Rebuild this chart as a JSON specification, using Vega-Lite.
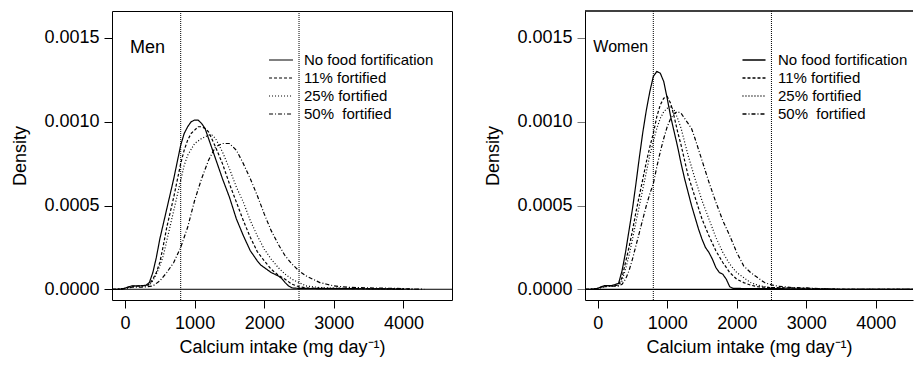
{
  "$schema": "https://vega.github.io/schema/vega-lite/v6.json",
  "autosize": {"type": "pad"},
  "padding": {"left": 11, "top": 10, "right": 0, "bottom": 0},
  "background": "white",
  "bounds": "flush",
  "spacing": 133,
  "config": {
    "font": "Liberation Sans",
    "view": {"stroke": "black", "strokeWidth": 1},
    "axis": {"grid": false, "domain": false, "tickColor": "black", "tickSize": 8, "tickWidth": 1,
      "labelFontSize": 18, "labelColor": "black", "labelFont": "Liberation Sans",
      "titleFontSize": 18, "titleFontWeight": "normal", "titleColor": "black", "titleFont": "Liberation Sans"},
    "axisX": {"labelPadding": 6, "titlePadding": 6},
    "axisY": {"labelPadding": 5, "titlePadding": 14},
    "legend": {"labelFont": "Liberation Sans", "labelFontSize": 15, "labelColor": "black"}
  },
  "resolve": {
    "scale": {"x": "independent", "y": "independent", "strokeDash": "independent"},
    "legend": {"strokeDash": "independent"}
  },
  "datasets": {
    "men": [
      {"series":"No food fortification","intake":-187,"density":0},{"series":"No food fortification","intake":-100,"density":0},{"series":"No food fortification","intake":-50,"density":0.000002},{"series":"No food fortification","intake":0,"density":0.000006},{"series":"No food fortification","intake":50,"density":0.000015},{"series":"No food fortification","intake":100,"density":0.00002},{"series":"No food fortification","intake":200,"density":0.00002},{"series":"No food fortification","intake":300,"density":0.000024},{"series":"No food fortification","intake":350,"density":0.00004},{"series":"No food fortification","intake":400,"density":0.0001},{"series":"No food fortification","intake":450,"density":0.00019},{"series":"No food fortification","intake":500,"density":0.0003},{"series":"No food fortification","intake":550,"density":0.00039},{"series":"No food fortification","intake":600,"density":0.00048},{"series":"No food fortification","intake":650,"density":0.00057},{"series":"No food fortification","intake":700,"density":0.00066},{"series":"No food fortification","intake":750,"density":0.00076},{"series":"No food fortification","intake":800,"density":0.00086},{"series":"No food fortification","intake":850,"density":0.00093},{"series":"No food fortification","intake":900,"density":0.00097},{"series":"No food fortification","intake":950,"density":0.001},{"series":"No food fortification","intake":1000,"density":0.00101},{"series":"No food fortification","intake":1050,"density":0.00101},{"series":"No food fortification","intake":1100,"density":0.00099},{"series":"No food fortification","intake":1150,"density":0.00096},{"series":"No food fortification","intake":1200,"density":0.0009},{"series":"No food fortification","intake":1250,"density":0.00084},{"series":"No food fortification","intake":1300,"density":0.00078},{"series":"No food fortification","intake":1400,"density":0.00066},{"series":"No food fortification","intake":1500,"density":0.00055},{"series":"No food fortification","intake":1600,"density":0.00042},{"series":"No food fortification","intake":1700,"density":0.00032},{"series":"No food fortification","intake":1800,"density":0.00023},{"series":"No food fortification","intake":1900,"density":0.00017},{"series":"No food fortification","intake":1950,"density":0.000145},{"series":"No food fortification","intake":2000,"density":0.00013},{"series":"No food fortification","intake":2100,"density":0.0001},{"series":"No food fortification","intake":2200,"density":0.00008},{"series":"No food fortification","intake":2250,"density":0.000065},{"series":"No food fortification","intake":2300,"density":0.00004},{"series":"No food fortification","intake":2350,"density":0.00002},{"series":"No food fortification","intake":2400,"density":0.000008},{"series":"No food fortification","intake":2500,"density":0.000005},{"series":"No food fortification","intake":3000,"density":0.000004},{"series":"No food fortification","intake":3500,"density":0.000003},{"series":"No food fortification","intake":3800,"density":0.000002},{"series":"No food fortification","intake":4000,"density":0},
      {"series":"11% fortified","intake":-187,"density":0},{"series":"11% fortified","intake":-100,"density":0},{"series":"11% fortified","intake":0,"density":0.000005},{"series":"11% fortified","intake":50,"density":0.000012},{"series":"11% fortified","intake":100,"density":0.000018},{"series":"11% fortified","intake":200,"density":0.00002},{"series":"11% fortified","intake":300,"density":0.000022},{"series":"11% fortified","intake":350,"density":0.00003},{"series":"11% fortified","intake":400,"density":0.00006},{"series":"11% fortified","intake":450,"density":0.0001},{"series":"11% fortified","intake":500,"density":0.00016},{"series":"11% fortified","intake":550,"density":0.00026},{"series":"11% fortified","intake":600,"density":0.00037},{"series":"11% fortified","intake":650,"density":0.00046},{"series":"11% fortified","intake":700,"density":0.00055},{"series":"11% fortified","intake":750,"density":0.00065},{"series":"11% fortified","intake":800,"density":0.00075},{"series":"11% fortified","intake":850,"density":0.00083},{"series":"11% fortified","intake":900,"density":0.00089},{"series":"11% fortified","intake":950,"density":0.00093},{"series":"11% fortified","intake":1000,"density":0.00095},{"series":"11% fortified","intake":1050,"density":0.00097},{"series":"11% fortified","intake":1100,"density":0.00097},{"series":"11% fortified","intake":1150,"density":0.00096},{"series":"11% fortified","intake":1200,"density":0.00094},{"series":"11% fortified","intake":1300,"density":0.00085},{"series":"11% fortified","intake":1400,"density":0.00075},{"series":"11% fortified","intake":1500,"density":0.00063},{"series":"11% fortified","intake":1600,"density":0.00052},{"series":"11% fortified","intake":1700,"density":0.00041},{"series":"11% fortified","intake":1800,"density":0.00031},{"series":"11% fortified","intake":1900,"density":0.000225},{"series":"11% fortified","intake":2000,"density":0.00017},{"series":"11% fortified","intake":2100,"density":0.00012},{"series":"11% fortified","intake":2200,"density":0.000085},{"series":"11% fortified","intake":2300,"density":0.00006},{"series":"11% fortified","intake":2400,"density":0.00003},{"series":"11% fortified","intake":2500,"density":0.000015},{"series":"11% fortified","intake":2600,"density":0.000008},{"series":"11% fortified","intake":3000,"density":0.000005},{"series":"11% fortified","intake":3500,"density":0.000004},{"series":"11% fortified","intake":3900,"density":0.000002},{"series":"11% fortified","intake":4100,"density":0},
      {"series":"25% fortified","intake":-187,"density":0},{"series":"25% fortified","intake":-100,"density":0},{"series":"25% fortified","intake":0,"density":0.000005},{"series":"25% fortified","intake":100,"density":0.000015},{"series":"25% fortified","intake":200,"density":0.000018},{"series":"25% fortified","intake":300,"density":0.00002},{"series":"25% fortified","intake":350,"density":0.000025},{"series":"25% fortified","intake":400,"density":0.00005},{"series":"25% fortified","intake":450,"density":0.00009},{"series":"25% fortified","intake":500,"density":0.00014},{"series":"25% fortified","intake":550,"density":0.0002},{"series":"25% fortified","intake":600,"density":0.00029},{"series":"25% fortified","intake":650,"density":0.00038},{"series":"25% fortified","intake":700,"density":0.00047},{"series":"25% fortified","intake":750,"density":0.00056},{"series":"25% fortified","intake":800,"density":0.00065},{"series":"25% fortified","intake":850,"density":0.00074},{"series":"25% fortified","intake":900,"density":0.0008},{"series":"25% fortified","intake":1000,"density":0.00087},{"series":"25% fortified","intake":1100,"density":0.0009},{"series":"25% fortified","intake":1200,"density":0.00092},{"series":"25% fortified","intake":1250,"density":0.00092},{"series":"25% fortified","intake":1300,"density":0.0009},{"series":"25% fortified","intake":1400,"density":0.00082},{"series":"25% fortified","intake":1500,"density":0.00072},{"series":"25% fortified","intake":1600,"density":0.00061},{"series":"25% fortified","intake":1700,"density":0.00052},{"series":"25% fortified","intake":1800,"density":0.00041},{"series":"25% fortified","intake":1900,"density":0.00032},{"series":"25% fortified","intake":2000,"density":0.00024},{"series":"25% fortified","intake":2100,"density":0.00018},{"series":"25% fortified","intake":2200,"density":0.00013},{"series":"25% fortified","intake":2300,"density":0.00009},{"series":"25% fortified","intake":2400,"density":0.00006},{"series":"25% fortified","intake":2500,"density":0.00004},{"series":"25% fortified","intake":2600,"density":0.00002},{"series":"25% fortified","intake":2800,"density":0.00001},{"series":"25% fortified","intake":3000,"density":0.000007},{"series":"25% fortified","intake":3500,"density":0.000004},{"series":"25% fortified","intake":4000,"density":0.000002},{"series":"25% fortified","intake":4200,"density":0},
      {"series":"50%\u00a0 fortified","intake":-187,"density":0},{"series":"50%\u00a0 fortified","intake":-100,"density":0},{"series":"50%\u00a0 fortified","intake":0,"density":0.000005},{"series":"50%\u00a0 fortified","intake":100,"density":0.000012},{"series":"50%\u00a0 fortified","intake":200,"density":0.000012},{"series":"50%\u00a0 fortified","intake":300,"density":0.000014},{"series":"50%\u00a0 fortified","intake":400,"density":0.00002},{"series":"50%\u00a0 fortified","intake":500,"density":0.00005},{"series":"50%\u00a0 fortified","intake":600,"density":0.0001},{"series":"50%\u00a0 fortified","intake":700,"density":0.00016},{"series":"50%\u00a0 fortified","intake":800,"density":0.00025},{"series":"50%\u00a0 fortified","intake":900,"density":0.00037},{"series":"50%\u00a0 fortified","intake":1000,"density":0.00053},{"series":"50%\u00a0 fortified","intake":1100,"density":0.00066},{"series":"50%\u00a0 fortified","intake":1200,"density":0.00077},{"series":"50%\u00a0 fortified","intake":1300,"density":0.00085},{"series":"50%\u00a0 fortified","intake":1400,"density":0.00087},{"series":"50%\u00a0 fortified","intake":1500,"density":0.00087},{"series":"50%\u00a0 fortified","intake":1600,"density":0.00083},{"series":"50%\u00a0 fortified","intake":1700,"density":0.00075},{"series":"50%\u00a0 fortified","intake":1800,"density":0.00066},{"series":"50%\u00a0 fortified","intake":1900,"density":0.00056},{"series":"50%\u00a0 fortified","intake":2000,"density":0.00045},{"series":"50%\u00a0 fortified","intake":2100,"density":0.00035},{"series":"50%\u00a0 fortified","intake":2200,"density":0.00027},{"series":"50%\u00a0 fortified","intake":2300,"density":0.0002},{"series":"50%\u00a0 fortified","intake":2400,"density":0.00015},{"series":"50%\u00a0 fortified","intake":2500,"density":0.00011},{"series":"50%\u00a0 fortified","intake":2600,"density":0.00008},{"series":"50%\u00a0 fortified","intake":2700,"density":0.00006},{"series":"50%\u00a0 fortified","intake":2800,"density":0.00004},{"series":"50%\u00a0 fortified","intake":2900,"density":0.00003},{"series":"50%\u00a0 fortified","intake":3000,"density":0.00002},{"series":"50%\u00a0 fortified","intake":3200,"density":0.000012},{"series":"50%\u00a0 fortified","intake":3500,"density":0.000008},{"series":"50%\u00a0 fortified","intake":3800,"density":0.000006},{"series":"50%\u00a0 fortified","intake":4000,"density":0.000004},{"series":"50%\u00a0 fortified","intake":4100,"density":0.000002},{"series":"50%\u00a0 fortified","intake":4300,"density":0}
    ],
    "women": [
      {"series":"No food fortification","intake":-183,"density":0},{"series":"No food fortification","intake":-100,"density":0},{"series":"No food fortification","intake":0,"density":0.000005},{"series":"No food fortification","intake":50,"density":0.000015},{"series":"No food fortification","intake":100,"density":0.000022},{"series":"No food fortification","intake":200,"density":0.000022},{"series":"No food fortification","intake":300,"density":0.000035},{"series":"No food fortification","intake":350,"density":0.00011},{"series":"No food fortification","intake":400,"density":0.00022},{"series":"No food fortification","intake":450,"density":0.00035},{"series":"No food fortification","intake":500,"density":0.00048},{"series":"No food fortification","intake":550,"density":0.00063},{"series":"No food fortification","intake":600,"density":0.00079},{"series":"No food fortification","intake":650,"density":0.00094},{"series":"No food fortification","intake":700,"density":0.00107},{"series":"No food fortification","intake":750,"density":0.00118},{"series":"No food fortification","intake":800,"density":0.00127},{"series":"No food fortification","intake":850,"density":0.0013},{"series":"No food fortification","intake":900,"density":0.00129},{"series":"No food fortification","intake":950,"density":0.00124},{"series":"No food fortification","intake":1000,"density":0.00114},{"series":"No food fortification","intake":1050,"density":0.00103},{"series":"No food fortification","intake":1100,"density":0.00094},{"series":"No food fortification","intake":1150,"density":0.00085},{"series":"No food fortification","intake":1200,"density":0.00075},{"series":"No food fortification","intake":1250,"density":0.00066},{"series":"No food fortification","intake":1300,"density":0.00058},{"series":"No food fortification","intake":1350,"density":0.0005},{"series":"No food fortification","intake":1400,"density":0.00043},{"series":"No food fortification","intake":1450,"density":0.00036},{"series":"No food fortification","intake":1500,"density":0.0003},{"series":"No food fortification","intake":1550,"density":0.00025},{"series":"No food fortification","intake":1600,"density":0.00022},{"series":"No food fortification","intake":1650,"density":0.00018},{"series":"No food fortification","intake":1700,"density":0.00013},{"series":"No food fortification","intake":1750,"density":0.0001},{"series":"No food fortification","intake":1800,"density":0.00009},{"series":"No food fortification","intake":1850,"density":0.00006},{"series":"No food fortification","intake":1900,"density":0.000015},{"series":"No food fortification","intake":1950,"density":0.000005},{"series":"No food fortification","intake":2500,"density":0.000004},{"series":"No food fortification","intake":3000,"density":0.000002},{"series":"No food fortification","intake":3500,"density":0},{"series":"No food fortification","intake":4537,"density":0},
      {"series":"11% fortified","intake":-183,"density":0},{"series":"11% fortified","intake":-100,"density":0},{"series":"11% fortified","intake":0,"density":0.000005},{"series":"11% fortified","intake":100,"density":0.00002},{"series":"11% fortified","intake":200,"density":0.00002},{"series":"11% fortified","intake":300,"density":0.000025},{"series":"11% fortified","intake":350,"density":0.00007},{"series":"11% fortified","intake":400,"density":0.00016},{"series":"11% fortified","intake":450,"density":0.00025},{"series":"11% fortified","intake":500,"density":0.00035},{"series":"11% fortified","intake":550,"density":0.00046},{"series":"11% fortified","intake":600,"density":0.00056},{"series":"11% fortified","intake":650,"density":0.00066},{"series":"11% fortified","intake":700,"density":0.00076},{"series":"11% fortified","intake":750,"density":0.00085},{"series":"11% fortified","intake":800,"density":0.00093},{"series":"11% fortified","intake":850,"density":0.00103},{"series":"11% fortified","intake":900,"density":0.0011},{"series":"11% fortified","intake":950,"density":0.00114},{"series":"11% fortified","intake":1000,"density":0.00115},{"series":"11% fortified","intake":1050,"density":0.00111},{"series":"11% fortified","intake":1100,"density":0.00103},{"series":"11% fortified","intake":1150,"density":0.00094},{"series":"11% fortified","intake":1200,"density":0.00086},{"series":"11% fortified","intake":1250,"density":0.00077},{"series":"11% fortified","intake":1300,"density":0.00068},{"series":"11% fortified","intake":1400,"density":0.00055},{"series":"11% fortified","intake":1500,"density":0.00042},{"series":"11% fortified","intake":1600,"density":0.00032},{"series":"11% fortified","intake":1700,"density":0.00023},{"series":"11% fortified","intake":1800,"density":0.00016},{"series":"11% fortified","intake":1900,"density":0.0001},{"series":"11% fortified","intake":2000,"density":0.00006},{"series":"11% fortified","intake":2100,"density":0.00004},{"series":"11% fortified","intake":2200,"density":0.000025},{"series":"11% fortified","intake":2300,"density":0.000015},{"series":"11% fortified","intake":2500,"density":0.00001},{"series":"11% fortified","intake":2800,"density":0.000008},{"series":"11% fortified","intake":3000,"density":0.000005},{"series":"11% fortified","intake":3200,"density":0.000002},{"series":"11% fortified","intake":3500,"density":0},{"series":"11% fortified","intake":4537,"density":0},
      {"series":"25% fortified","intake":-183,"density":0},{"series":"25% fortified","intake":-100,"density":0},{"series":"25% fortified","intake":0,"density":0.000005},{"series":"25% fortified","intake":100,"density":0.000018},{"series":"25% fortified","intake":200,"density":0.00002},{"series":"25% fortified","intake":300,"density":0.000022},{"series":"25% fortified","intake":350,"density":0.00005},{"series":"25% fortified","intake":400,"density":0.00012},{"series":"25% fortified","intake":450,"density":0.0002},{"series":"25% fortified","intake":500,"density":0.0003},{"series":"25% fortified","intake":550,"density":0.0004},{"series":"25% fortified","intake":600,"density":0.0005},{"series":"25% fortified","intake":650,"density":0.0006},{"series":"25% fortified","intake":700,"density":0.0007},{"series":"25% fortified","intake":750,"density":0.0008},{"series":"25% fortified","intake":800,"density":0.00088},{"series":"25% fortified","intake":850,"density":0.00096},{"series":"25% fortified","intake":900,"density":0.00102},{"series":"25% fortified","intake":950,"density":0.00106},{"series":"25% fortified","intake":1000,"density":0.00108},{"series":"25% fortified","intake":1050,"density":0.00109},{"series":"25% fortified","intake":1100,"density":0.00107},{"series":"25% fortified","intake":1150,"density":0.00102},{"series":"25% fortified","intake":1200,"density":0.00096},{"series":"25% fortified","intake":1250,"density":0.00088},{"series":"25% fortified","intake":1300,"density":0.0008},{"series":"25% fortified","intake":1400,"density":0.00066},{"series":"25% fortified","intake":1500,"density":0.00053},{"series":"25% fortified","intake":1600,"density":0.00042},{"series":"25% fortified","intake":1700,"density":0.00031},{"series":"25% fortified","intake":1800,"density":0.00022},{"series":"25% fortified","intake":1900,"density":0.00015},{"series":"25% fortified","intake":2000,"density":0.0001},{"series":"25% fortified","intake":2100,"density":0.00007},{"series":"25% fortified","intake":2200,"density":0.00004},{"series":"25% fortified","intake":2300,"density":0.000025},{"series":"25% fortified","intake":2400,"density":0.000015},{"series":"25% fortified","intake":2500,"density":0.00001},{"series":"25% fortified","intake":2700,"density":0.000008},{"series":"25% fortified","intake":3000,"density":0.000006},{"series":"25% fortified","intake":3200,"density":0.000003},{"series":"25% fortified","intake":3500,"density":0},{"series":"25% fortified","intake":4537,"density":0},
      {"series":"50%\u00a0 fortified","intake":-183,"density":0},{"series":"50%\u00a0 fortified","intake":-100,"density":0},{"series":"50%\u00a0 fortified","intake":0,"density":0.000005},{"series":"50%\u00a0 fortified","intake":100,"density":0.000015},{"series":"50%\u00a0 fortified","intake":200,"density":0.000018},{"series":"50%\u00a0 fortified","intake":300,"density":0.00002},{"series":"50%\u00a0 fortified","intake":350,"density":0.00003},{"series":"50%\u00a0 fortified","intake":400,"density":0.00006},{"series":"50%\u00a0 fortified","intake":450,"density":0.00011},{"series":"50%\u00a0 fortified","intake":500,"density":0.00018},{"series":"50%\u00a0 fortified","intake":550,"density":0.00026},{"series":"50%\u00a0 fortified","intake":600,"density":0.00034},{"series":"50%\u00a0 fortified","intake":650,"density":0.00042},{"series":"50%\u00a0 fortified","intake":700,"density":0.0005},{"series":"50%\u00a0 fortified","intake":750,"density":0.00057},{"series":"50%\u00a0 fortified","intake":800,"density":0.00063},{"series":"50%\u00a0 fortified","intake":850,"density":0.00073},{"series":"50%\u00a0 fortified","intake":900,"density":0.00082},{"series":"50%\u00a0 fortified","intake":950,"density":0.0009},{"series":"50%\u00a0 fortified","intake":1000,"density":0.00097},{"series":"50%\u00a0 fortified","intake":1050,"density":0.00102},{"series":"50%\u00a0 fortified","intake":1100,"density":0.00105},{"series":"50%\u00a0 fortified","intake":1150,"density":0.00106},{"series":"50%\u00a0 fortified","intake":1200,"density":0.00105},{"series":"50%\u00a0 fortified","intake":1250,"density":0.00102},{"series":"50%\u00a0 fortified","intake":1300,"density":0.00099},{"series":"50%\u00a0 fortified","intake":1350,"density":0.00096},{"series":"50%\u00a0 fortified","intake":1400,"density":0.0009},{"series":"50%\u00a0 fortified","intake":1500,"density":0.00077},{"series":"50%\u00a0 fortified","intake":1600,"density":0.00064},{"series":"50%\u00a0 fortified","intake":1700,"density":0.00052},{"series":"50%\u00a0 fortified","intake":1800,"density":0.00041},{"series":"50%\u00a0 fortified","intake":1900,"density":0.00032},{"series":"50%\u00a0 fortified","intake":2000,"density":0.00022},{"series":"50%\u00a0 fortified","intake":2100,"density":0.00014},{"series":"50%\u00a0 fortified","intake":2200,"density":0.0001},{"series":"50%\u00a0 fortified","intake":2300,"density":0.00007},{"series":"50%\u00a0 fortified","intake":2400,"density":0.00004},{"series":"50%\u00a0 fortified","intake":2500,"density":0.000026},{"series":"50%\u00a0 fortified","intake":2600,"density":0.000018},{"series":"50%\u00a0 fortified","intake":2800,"density":0.00001},{"series":"50%\u00a0 fortified","intake":3000,"density":0.000008},{"series":"50%\u00a0 fortified","intake":3200,"density":0.000004},{"series":"50%\u00a0 fortified","intake":3400,"density":0},{"series":"50%\u00a0 fortified","intake":4537,"density":0}
    ]
  },
  "hconcat": [
    {
      "width": 340,
      "height": 289,
      "layer": [
        {
          "data": {"values": [{"ref": 800}, {"ref": 2500}]},
          "mark": {"type": "rule", "color": "black", "strokeWidth": 1, "strokeDash": [1, 1]},
          "encoding": {"x": {"field": "ref", "type": "quantitative"}}
        },
        {
          "data": {"values": [{"zero": 0}]},
          "mark": {"type": "rule", "color": "black", "strokeWidth": 1},
          "encoding": {"y": {"field": "zero", "type": "quantitative"}}
        },
        {
          "data": {"name": "men"},
          "mark": {"type": "line", "color": "black", "strokeWidth": 1.2},
          "encoding": {
            "x": {"field": "intake", "type": "quantitative",
              "scale": {"domain": [-187, 4698], "nice": false, "zero": false},
              "axis": {"values": [0, 1000, 2000, 3000, 4000], "format": "d", "title": "Calcium intake (mg day\u207b\u00b9)"}},
            "y": {"field": "density", "type": "quantitative",
              "scale": {"domain": [-0.000064, 0.001661], "nice": false, "zero": false},
              "axis": {"values": [0, 0.0005, 0.001, 0.0015], "format": ".4f", "title": "Density"}},
            "strokeDash": {"field": "series", "type": "nominal",
              "scale": {"domain": ["No food fortification", "11% fortified", "25% fortified", "50%\u00a0 fortified"],
                "range": [[1, 0], [3, 2], [1, 2], [4, 2, 1, 2]]},
              "legend": {"orient": "none", "legendX": 159, "legendY": 39, "title": null, "padding": 0,
                "symbolType": "M-1.33,0L1.33,0", "symbolSize": 324, "symbolStrokeWidth": 1.2, "symbolStrokeColor": "black", "symbolFillColor": "transparent",
                "labelFontSize": 15, "labelOffset": 13, "rowPadding": 0}}
          }
        },
        {
          "data": {"values": [{}]},
          "mark": {"type": "text", "fontSize": 18, "align": "left", "baseline": "alphabetic", "color": "black"},
          "encoding": {"x": {"datum": 72}, "y": {"datum": 0.00141}, "text": {"value": "Men"}}
        }
      ]
    },
    {
      "width": 328,
      "height": 289,
      "view": {"stroke": null},
      "layer": [
        {
          "data": {"values": [{"ref": 800}, {"ref": 2500}]},
          "mark": {"type": "rule", "color": "black", "strokeWidth": 1, "strokeDash": [1, 1]},
          "encoding": {"x": {"field": "ref", "type": "quantitative"}}
        },
        {
          "data": {"values": [{"zero": 0}]},
          "mark": {"type": "rule", "color": "black", "strokeWidth": 1.2},
          "encoding": {"y": {"field": "zero", "type": "quantitative"}}
        },
        {
          "data": {"values": [{"top": 0.001661}]},
          "mark": {"type": "rule", "color": "black", "strokeWidth": 1.5},
          "encoding": {"y": {"field": "top", "type": "quantitative"}}
        },
        {
          "data": {"name": "women"},
          "mark": {"type": "line", "color": "black", "strokeWidth": 1.2},
          "encoding": {
            "x": {"field": "intake", "type": "quantitative",
              "scale": {"domain": [-183, 4537], "nice": false, "zero": false},
              "axis": {"values": [0, 1000, 2000, 3000, 4000], "format": "d", "title": "Calcium intake (mg day\u207b\u00b9)", "domain": true, "domainColor": "black", "domainWidth": 1}},
            "y": {"field": "density", "type": "quantitative",
              "scale": {"domain": [-0.000064, 0.001661], "nice": false, "zero": false},
              "axis": {"values": [0, 0.0005, 0.001, 0.0015], "format": ".4f", "title": "Density", "domain": true, "domainColor": "black", "domainWidth": 1, "tickColor": "#777777"}},
            "strokeDash": {"field": "series", "type": "nominal",
              "scale": {"domain": ["No food fortification", "11% fortified", "25% fortified", "50%\u00a0 fortified"],
                "range": [[1, 0], [3, 2], [1, 2], [4, 2, 1, 2]]},
              "legend": {"orient": "none", "legendX": 159, "legendY": 39, "title": null, "padding": 0,
                "symbolType": "M-1.28,0L1.28,0", "symbolSize": 324, "symbolStrokeWidth": 1.4, "symbolStrokeColor": "black", "symbolFillColor": "transparent",
                "labelFontSize": 15, "labelOffset": 14, "rowPadding": 0}}
          }
        },
        {
          "data": {"values": [{}]},
          "mark": {"type": "text", "fontSize": 16, "align": "left", "baseline": "alphabetic", "color": "black"},
          "encoding": {"x": {"datum": -63}, "y": {"datum": 0.001418}, "text": {"value": "Women"}}
        }
      ]
    }
  ]
}
